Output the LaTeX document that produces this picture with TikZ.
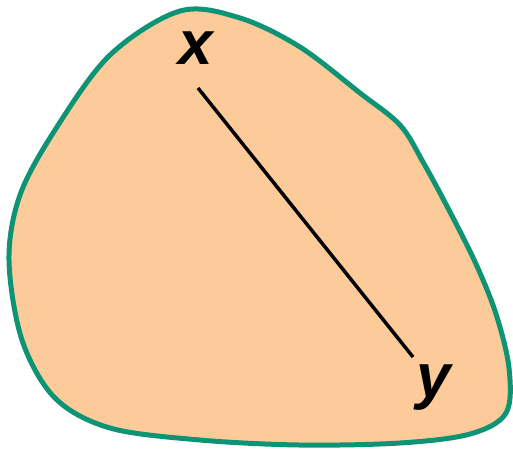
\documentclass[tikz,border=0pt]{standalone}
\usepackage{fontspec}
\setsansfont{Liberation Sans}
\definecolor{peach}{HTML}{FDCB9A}
\definecolor{teal}{HTML}{0E9474}

\begin{document}
\begin{tikzpicture}[x=1pt,y=-1pt,
    lbl/.style={font=\sffamily\bfseries\itshape\fontsize{62}{62}\selectfont, inner sep=0pt, anchor=base}]
\useasboundingbox (0,0) rectangle (513,448);
% convex set
\draw[line width=5pt, draw=teal, fill=peach] plot[smooth cycle, tension=0.55] coordinates {
    (180,11) (240,18) (300,47) (360,93) (400,125) (423,162) (450,212)
    (476,264) (496,314) (509,368) (506,413) (470,434) (400,443)
    (300,445) (200,440) (110,428) (55,398) (22,340) (9,260) (20,195)
    (55,130) (110,55)};
\node[lbl] (x) at (196,64) {x};
\node[lbl] (y) at (434,397) {y};
\coordinate (px) at (198,88);
\coordinate (py) at (413,357);
\draw[line width=3.5pt] (px) -- (py);
\end{tikzpicture}
\end{document}
